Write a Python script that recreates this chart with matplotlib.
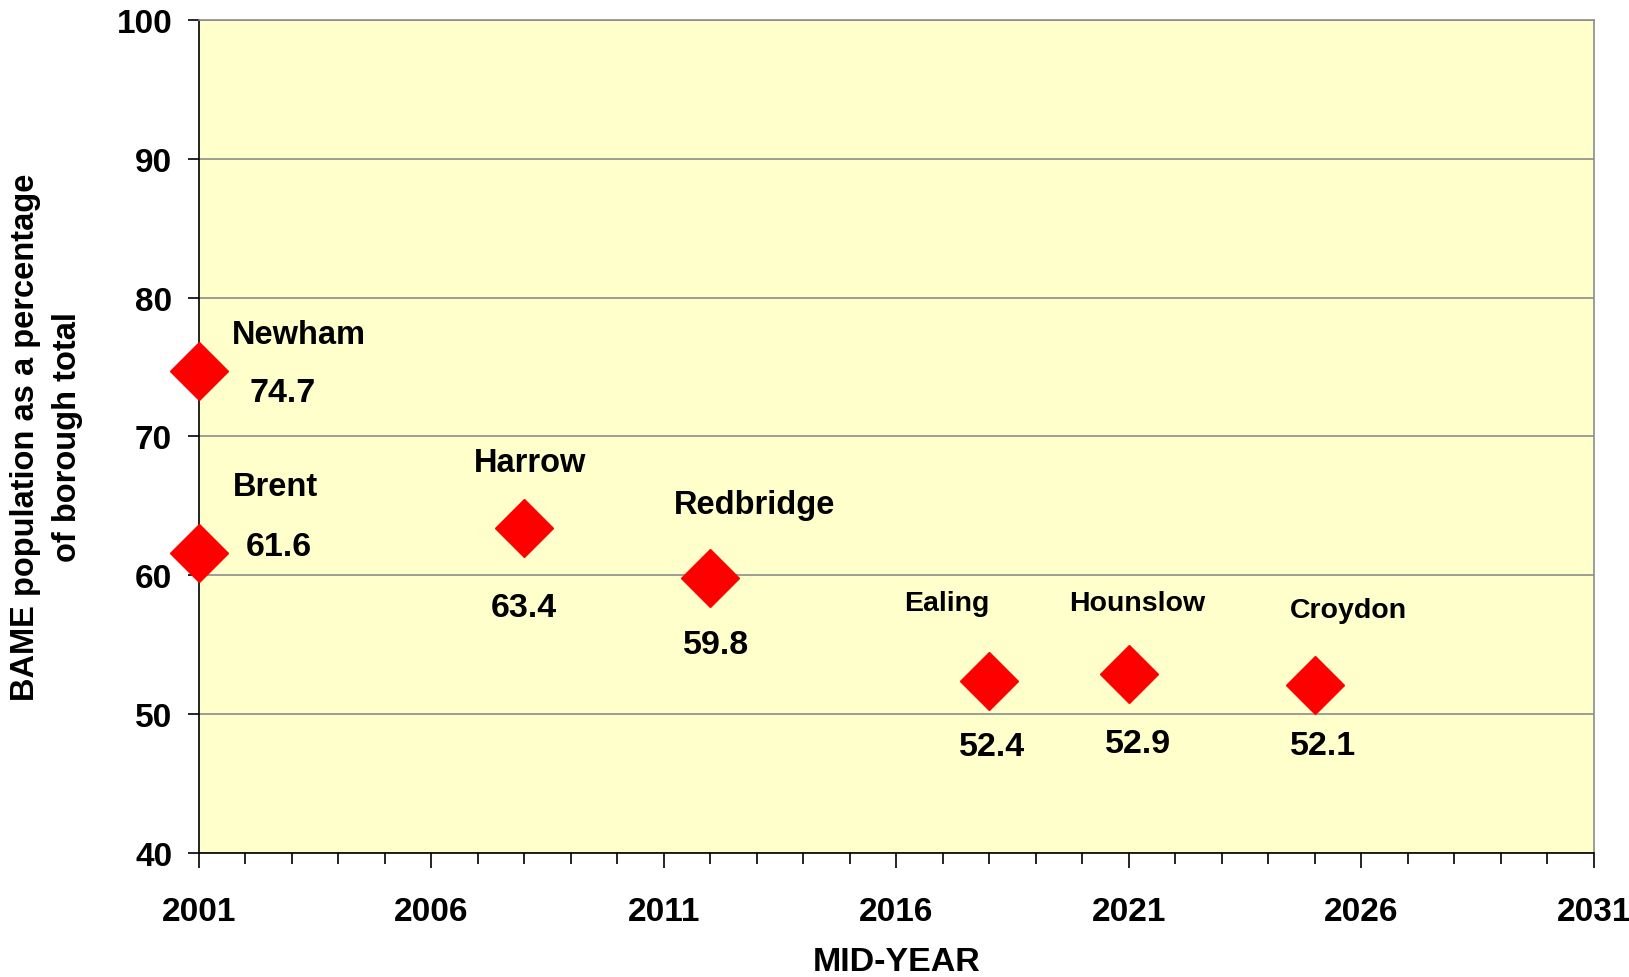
import matplotlib.pyplot as plt
import numpy as np
from matplotlib.ticker import MultipleLocator, FixedLocator

plt.rcParams['font.family'] = ['Liberation Sans', 'DejaVu Sans']
plt.rcParams['font.weight'] = 'bold'

# boroughs and the year their BAME share passes the majority
boroughs = ['Newham', 'Brent', 'Harrow', 'Redbridge', 'Ealing', 'Hounslow', 'Croydon']
years = [2001, 2001, 2008, 2012, 2018, 2021, 2025]
bame_pct = [74.7, 61.6, 63.4, 59.8, 52.4, 52.9, 52.1]

# label offsets in pixels (name, value) relative to each marker
name_offsets = [(33, 37), (34, 67), (6, 66), (44, 74), (-42, 78), (8, 71), (34, 75)]
name_align = ['left', 'left', 'center', 'center', 'center', 'center', 'center']
name_sizes = [23.5, 23.5, 23.5, 23.5, 20.5, 20.5, 20.5]
value_offsets = [(84, -21), (80, 7), (0, -79), (6, -66), (3, -66), (9, -70), (8, -61)]

fig = plt.figure(figsize=(16.29, 9.78), dpi=100)
ax = fig.add_axes([0.1219, 0.1268, 0.8566, 0.8519])
ax.set_facecolor('#FFFFCC')

ax.set_xlim(2001, 2031)
ax.set_ylim(40, 100)
ax.xaxis.set_major_locator(FixedLocator(np.arange(2001, 2032, 5)))
ax.xaxis.set_minor_locator(MultipleLocator(1))
ax.yaxis.set_major_locator(MultipleLocator(10))

ax.grid(axis='y', color='#8C8C8C', linewidth=1.2)
ax.set_axisbelow(True)

for side in ['top', 'right']:
    ax.spines[side].set_color('#8C8C8C')
    ax.spines[side].set_linewidth(1.2)
for side in ['left', 'bottom']:
    ax.spines[side].set_color('black')
    ax.spines[side].set_linewidth(1.2)

ax.tick_params(axis='x', which='major', length=11, width=1.2, pad=20, labelsize=24)
ax.tick_params(axis='x', which='minor', length=8, width=1.2)
ax.tick_params(axis='y', which='major', length=8, width=1.2, pad=11, labelsize=24)

ax.plot(years, bame_pct, linestyle='none', marker='D', markersize=29.5,
        color='#FF0000', clip_on=False, zorder=5)

for i in range(len(boroughs)):
    ax.annotate(boroughs[i], (years[i], bame_pct[i]), xytext=name_offsets[i],
                textcoords='offset pixels', ha=name_align[i], va='center',
                fontsize=name_sizes[i], fontweight='bold')
    ax.annotate('%.1f' % bame_pct[i], (years[i], bame_pct[i]), xytext=value_offsets[i],
                textcoords='offset pixels', ha='center', va='center',
                fontsize=24.5, fontweight='bold')

ax.set_xlabel('MID-YEAR', fontsize=24.5, fontweight='bold', labelpad=14)
ax.set_ylabel('BAME population as a percentage\nof borough total', fontsize=23.5,
              fontweight='bold', linespacing=1.45, labelpad=24)

fig.savefig('out.png', dpi=100)
